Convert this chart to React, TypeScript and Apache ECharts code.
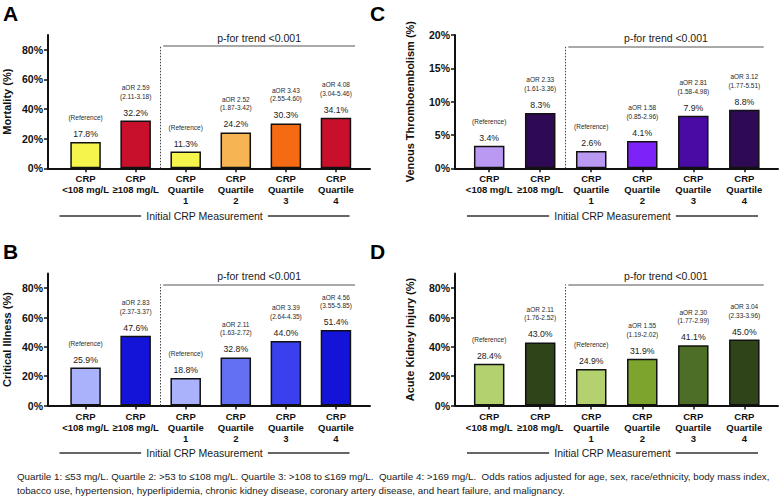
import { useEffect, useRef } from "react";
import * as echarts from "echarts";

// ---------- data ----------
const categories = [
  "CRP\n<108 mg/L",
  "CRP\n≥108 mg/L",
  "CRP\nQuartile\n1",
  "CRP\nQuartile\n2",
  "CRP\nQuartile\n3",
  "CRP\nQuartile\n4",
];

const mortality = [17.8, 32.2, 11.3, 24.2, 30.3, 34.1];
const mortalityAOR = [null, "2.59", null, "2.52", "3.43", "4.08"];
const mortalityCI = [null, "2.11-3.18", null, "1.87-3.42", "2.55-4.60", "3.04-5.46"];

const vte = [3.4, 8.3, 2.6, 4.1, 7.9, 8.8];
const vteAOR = [null, "2.33", null, "1.58", "2.81", "3.12"];
const vteCI = [null, "1.61-3.36", null, "0.85-2.96", "1.58-4.98", "1.77-5.51"];

const critical = [25.9, 47.6, 18.8, 32.8, 44.0, 51.4];
const criticalAOR = [null, "2.83", null, "2.11", "3.39", "4.56"];
const criticalCI = [null, "2.37-3.37", null, "1.63-2.72", "2.64-4.35", "3.55-5.85"];

const aki = [28.4, 43.0, 24.9, 31.9, 41.1, 45.0];
const akiAOR = [null, "2.11", null, "1.55", "2.30", "3.04"];
const akiCI = [null, "1.76-2.52", null, "1.19-2.02", "1.77-2.99", "2.33-3.96"];

const ticksPct80 = [0, 20, 40, 60, 80];
const ticksPct20 = [0, 5, 10, 15, 20];

const pTrendText = "p-for trend <0.001";
const xTitle = "Initial CRP Measurement";
const footLine1 =
  "Quartile 1: ≤53 mg/L. Quartile 2: >53 to ≤108 mg/L. Quartile 3: >108 to ≤169 mg/L.  Quartile 4: >169 mg/L.  Odds ratios adjusted for age, sex, race/ethnicity, body mass index,";
const footLine2 =
  "tobacco use, hypertension, hyperlipidemia, chronic kidney disease, coronary artery disease, and heart failure, and malignancy.";

// ---------- styles ----------
const colorsA = ["#F5F44C", "#C8102C", "#F5F44C", "#F6B552", "#F46B14", "#C8102C"];
const colorsC = ["#BA99F3", "#2F0A54", "#BA99F3", "#7D22F8", "#4A0BA5", "#2F0A54"];
const colorsB = ["#A9B2FA", "#1414D8", "#A9B2FA", "#6470F2", "#3B40EE", "#1414D8"];
const colorsD = ["#B3D16E", "#2F4418", "#B3D16E", "#7DA42C", "#4D6E26", "#2F4418"];

const FONT = '"Liberation Sans", Arial, Helvetica, sans-serif';

const panels = [
  {
    letter: "A", letterX: 3, letterY: 3,
    values: mortality, aor: mortalityAOR, ci: mortalityCI, colors: colorsA,
    name: "Mortality (%)", nameGap: 36,
    grid: { left: 43.5, top: 35, width: 326.5, height: 133.3 },
    xRange: [-0.75, 5.68], yMax: 90, yTicks: ticksPct80, pLevel: 82.5,
    initY: 216, initX: [59.5, 349.5],
  },
  {
    letter: "C", letterX: 370, letterY: 3,
    values: vte, aor: vteAOR, ci: vteCI, colors: colorsC,
    name: "Venous Thromboembolism (%)", nameGap: 40,
    grid: { left: 455, top: 35, width: 323, height: 133.3 },
    xRange: [-0.67, 5.66], yMax: 20, yTicks: ticksPct20, pLevel: 18.3,
    initY: 216, initX: [467, 758],
  },
  {
    letter: "B", letterX: 3, letterY: 241,
    values: critical, aor: criticalAOR, ci: criticalCI, colors: colorsB,
    name: "Critical Illness (%)", nameGap: 36,
    grid: { left: 43.5, top: 273.5, width: 326.5, height: 132 },
    xRange: [-0.75, 5.68], yMax: 90, yTicks: ticksPct80, pLevel: 82.5,
    initY: 453, initX: [59.5, 349.5],
  },
  {
    letter: "D", letterX: 370, letterY: 241,
    values: aki, aor: akiAOR, ci: akiCI, colors: colorsD,
    name: "Acute Kidney Injury (%)", nameGap: 40,
    grid: { left: 455, top: 273.5, width: 323, height: 132 },
    xRange: [-0.67, 5.66], yMax: 90, yTicks: ticksPct80, pLevel: 82.5,
    initY: 453, initX: [467, 758],
  },
];

function buildOption() {
  const grids: any[] = [];
  const xAxes: any[] = [];
  const yAxes: any[] = [];
  const series: any[] = [];
  const graphic: any[] = [];

  panels.forEach((p, i) => {
    grids.push({ ...p.grid, containLabel: false });
    xAxes.push({
      type: "value",
      gridIndex: i,
      min: p.xRange[0],
      max: p.xRange[1],
      splitLine: { show: false },
      axisLine: { show: true, onZero: false, lineStyle: { color: "#111", width: 2 } },
      axisTick: {
        show: true,
        customValues: [0, 1, 2, 3, 4, 5],
        length: 4,
        lineStyle: { color: "#111", width: 1.5 },
      },
      axisLabel: {
        show: true,
        customValues: [0, 1, 2, 3, 4, 5],
        margin: 5,
        formatter: (v: number) => categories[Math.round(v)] ?? "",
        fontFamily: FONT,
        fontWeight: "bold",
        fontSize: 9.5,
        lineHeight: 11,
        color: "#111",
        align: "center",
      },
    });
    yAxes.push({
      type: "value",
      gridIndex: i,
      min: 0,
      max: p.yMax,
      name: p.name,
      nameLocation: "middle",
      nameGap: p.nameGap,
      nameRotate: 90,
      nameTextStyle: { fontFamily: FONT, fontWeight: "bold", fontSize: 11, color: "#111" },
      splitLine: { show: false },
      axisLine: { show: true, onZero: false, lineStyle: { color: "#111", width: 2 } },
      axisTick: {
        show: true,
        customValues: p.yTicks,
        length: 4,
        lineStyle: { color: "#111", width: 1.5 },
      },
      axisLabel: {
        show: true,
        customValues: p.yTicks,
        margin: 5,
        formatter: (v: number) => `${v}%`,
        fontFamily: FONT,
        fontWeight: "bold",
        fontSize: 10.5,
        color: "#111",
      },
    });

    series.push({
      type: "bar",
      xAxisIndex: i,
      yAxisIndex: i,
      barWidth: 30.5,
      data: p.values.map((v, j) => ({ value: [j, v], itemStyle: { color: p.colors[j] } })),
      itemStyle: { borderColor: "#111", borderWidth: 1.5 },
      label: {
        show: true,
        position: "top",
        distance: 3,
        align: "center",
        color: "#222",
        formatter: (param: any) => {
          const j = param.dataIndex;
          const val = `{v|${p.values[j].toFixed(1)}%}`;
          if (p.aor[j]) {
            return `{s|aOR ${p.aor[j]}}\n{s|(${p.ci[j]})}\n{g| }\n${val}`;
          }
          return `{s|(Reference)}\n{g| }\n${val}`;
        },
        rich: {
          s: { fontFamily: FONT, fontSize: 6.5, lineHeight: 8.5, color: "#2a2a2a", align: "center" },
          g: { fontFamily: FONT, fontSize: 1, lineHeight: 7.25, color: "#fff", align: "center" },
          v: { fontFamily: FONT, fontSize: 8.7, lineHeight: 10, color: "#1a1a1a", align: "center" },
        },
      },
      markLine: {
        silent: true,
        symbol: ["none", "none"],
        animation: false,
        label: { show: false },
        data: [
          [
            { coord: [1.5, 0], lineStyle: { type: [1.5, 1.5], color: "#444", width: 1 } },
            { coord: [1.5, p.pLevel] },
          ],
          [
            {
              coord: [1.55, p.pLevel],
              lineStyle: { type: "solid", color: "#8c8c8c", width: 1.5 },
              label: {
                show: true,
                formatter: pTrendText,
                position: "insideMiddleTop",
                distance: 3,
                fontFamily: FONT,
                fontSize: 10.5,
                color: "#1a1a1a",
              },
            },
            { coord: [5.38, p.pLevel] },
          ],
        ],
      },
    });

    graphic.push({
      type: "text",
      x: p.letterX,
      y: p.letterY,
      style: { text: p.letter, font: `bold 21px ${FONT}`, fill: "#000", align: "left", verticalAlign: "top" },
    });
    graphic.push({
      type: "line",
      shape: { x1: p.initX[0], y1: p.initY, x2: p.initX[1], y2: p.initY },
      style: { stroke: "#333", lineWidth: 1.5 },
    });
    graphic.push({
      type: "text",
      x: (p.initX[0] + p.initX[1]) / 2,
      y: p.initY,
      style: {
        text: xTitle,
        font: `10.5px ${FONT}`,
        fill: "#1a1a1a",
        align: "center",
        verticalAlign: "middle",
        backgroundColor: "#fff",
        padding: [0, 5],
      },
    });
  });

  graphic.push({
    type: "text",
    x: 17,
    y: 476,
    style: { text: footLine1, font: `9.8px ${FONT}`, fill: "#222", align: "left", verticalAlign: "middle" },
  });
  graphic.push({
    type: "text",
    x: 17,
    y: 490,
    style: { text: footLine2, font: `9.8px ${FONT}`, fill: "#222", align: "left", verticalAlign: "middle" },
  });

  return {
    animation: false,
    backgroundColor: "#fff",
    grid: grids,
    xAxis: xAxes,
    yAxis: yAxes,
    series,
    graphic,
  };
}

export default function App() {
  const ref = useRef<HTMLDivElement>(null);
  useEffect(() => {
    if (!ref.current) return;
    document.body.style.margin = "0";
    const chart = echarts.init(ref.current, undefined, { renderer: "svg" });
    chart.setOption(buildOption() as any);
    return () => chart.dispose();
  }, []);
  return (
    <div
      ref={ref}
      style={{ position: "fixed", left: 0, top: 0, width: 780, height: 503, background: "#fff" }}
    />
  );
}
